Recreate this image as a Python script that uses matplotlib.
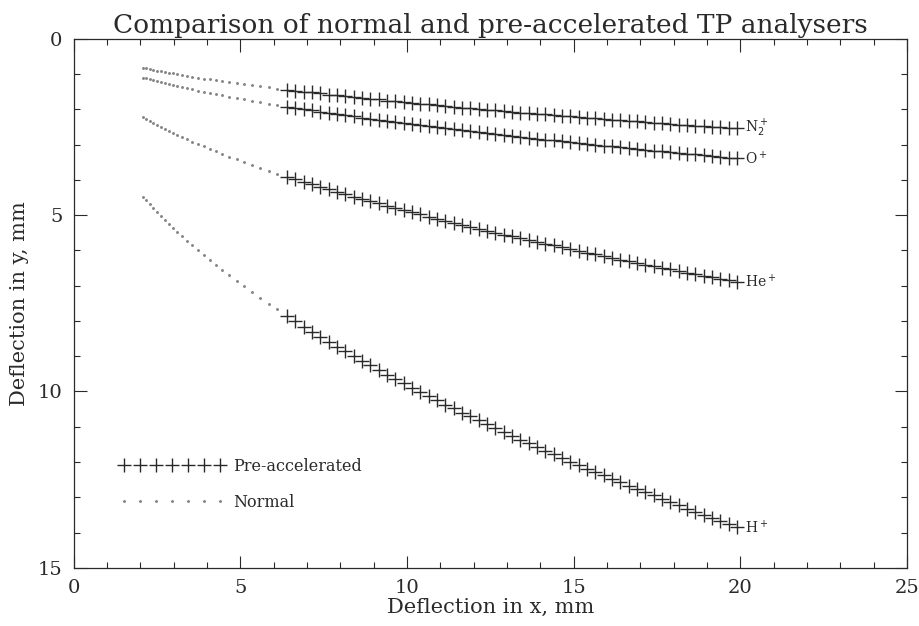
import matplotlib
matplotlib.use("Agg")
import matplotlib.pyplot as plt
from matplotlib.ticker import MultipleLocator

# Normal analyser: sampled deflections (dots)
x_normal = [2.08, 2.18, 2.28, 2.38, 2.50, 2.61, 2.73, 2.85, 2.98, 3.11, 3.25, 3.40, 3.56,
            3.73, 3.90, 4.08, 4.26, 4.46, 4.66, 4.89, 5.11, 5.35, 5.59, 5.86, 6.11]
y_normal_n2 = [0.82, 0.84, 0.86, 0.88, 0.90, 0.92, 0.94, 0.96, 0.98, 1.01, 1.03, 1.05, 1.08,
               1.10, 1.13, 1.15, 1.18, 1.20, 1.23, 1.26, 1.29, 1.32, 1.35, 1.38, 1.41]
y_normal_o = [1.10, 1.12, 1.15, 1.17, 1.20, 1.23, 1.26, 1.28, 1.31, 1.34, 1.37, 1.40, 1.43,
              1.47, 1.50, 1.54, 1.57, 1.60, 1.64, 1.68, 1.72, 1.76, 1.80, 1.84, 1.88]
y_normal_he = [2.23, 2.28, 2.33, 2.38, 2.44, 2.50, 2.55, 2.61, 2.67, 2.72, 2.79, 2.85, 2.92,
               2.98, 3.05, 3.12, 3.19, 3.26, 3.34, 3.42, 3.49, 3.57, 3.65, 3.74, 3.82]
y_normal_h = [4.48, 4.58, 4.69, 4.79, 4.91, 5.02, 5.13, 5.24, 5.36, 5.48, 5.60, 5.73, 5.86,
              6.00, 6.13, 6.27, 6.41, 6.56, 6.70, 6.87, 7.02, 7.18, 7.34, 7.52, 7.67]

# Pre-accelerated analyser (crosses)
x_pre = [6.40, 6.65, 6.90, 7.15, 7.40, 7.65, 7.90, 8.15, 8.40, 8.65, 8.90, 9.15, 9.40, 9.65,
         9.90, 10.15, 10.40, 10.65, 10.90, 11.15, 11.40, 11.65, 11.90, 12.15, 12.40, 12.65,
         12.90, 13.15, 13.40, 13.65, 13.90, 14.15, 14.40, 14.65, 14.90, 15.15, 15.40, 15.65,
         15.90, 16.15, 16.40, 16.65, 16.90, 17.15, 17.40, 17.65, 17.90, 18.15, 18.40, 18.65,
         18.90, 19.15, 19.40, 19.65, 19.90]
y_pre_n2 = [1.44, 1.47, 1.50, 1.52, 1.55, 1.58, 1.60, 1.63, 1.65, 1.68, 1.70, 1.72, 1.75, 1.77,
            1.79, 1.82, 1.84, 1.86, 1.88, 1.90, 1.92, 1.95, 1.97, 1.99, 2.01, 2.03, 2.05, 2.07,
            2.09, 2.11, 2.13, 2.14, 2.16, 2.18, 2.20, 2.22, 2.24, 2.25, 2.27, 2.29, 2.31, 2.33,
            2.34, 2.36, 2.38, 2.39, 2.41, 2.43, 2.45, 2.46, 2.48, 2.49, 2.51, 2.53, 2.54]
y_pre_o = [1.92, 1.96, 2.00, 2.03, 2.07, 2.10, 2.14, 2.17, 2.20, 2.24, 2.27, 2.30, 2.33, 2.36,
           2.39, 2.42, 2.45, 2.48, 2.51, 2.54, 2.57, 2.59, 2.62, 2.65, 2.68, 2.70, 2.73, 2.76,
           2.78, 2.81, 2.83, 2.86, 2.88, 2.91, 2.93, 2.96, 2.98, 3.01, 3.03, 3.05, 3.08, 3.10,
           3.12, 3.15, 3.17, 3.19, 3.22, 3.24, 3.26, 3.28, 3.30, 3.33, 3.35, 3.37, 3.39]
y_pre_he = [3.91, 3.98, 4.06, 4.13, 4.20, 4.27, 4.34, 4.41, 4.48, 4.54, 4.61, 4.67, 4.74, 4.80,
            4.86, 4.92, 4.98, 5.04, 5.10, 5.16, 5.22, 5.27, 5.33, 5.39, 5.44, 5.50, 5.55, 5.60,
            5.66, 5.71, 5.76, 5.81, 5.86, 5.91, 5.96, 6.01, 6.06, 6.11, 6.16, 6.21, 6.26, 6.30,
            6.35, 6.40, 6.44, 6.49, 6.54, 6.58, 6.63, 6.67, 6.72, 6.76, 6.81, 6.85, 6.89]
y_pre_h = [7.85, 8.01, 8.16, 8.30, 8.45, 8.59, 8.73, 8.86, 9.00, 9.13, 9.26, 9.39, 9.52, 9.65,
           9.77, 9.89, 10.01, 10.13, 10.25, 10.37, 10.48, 10.60, 10.71, 10.82, 10.93, 11.04,
           11.15, 11.26, 11.37, 11.47, 11.58, 11.68, 11.78, 11.88, 11.99, 12.09, 12.19, 12.28,
           12.38, 12.48, 12.57, 12.67, 12.76, 12.86, 12.95, 13.04, 13.14, 13.23, 13.32, 13.41,
           13.50, 13.59, 13.68, 13.76, 13.85]

ion_labels = [r"N$_2^+$", r"O$^+$", r"He$^+$", r"H$^+$"]

ink = "#2a2a2a"
font = "DejaVu Serif"

fig = plt.figure(figsize=(9.2, 6.26), dpi=100)
ax = fig.add_axes([0.080, 0.093, 0.906, 0.845])

normal_sets = [y_normal_n2, y_normal_o, y_normal_he, y_normal_h]
pre_sets = [y_pre_n2, y_pre_o, y_pre_he, y_pre_h]

for i, (yn, yp, lab) in enumerate(zip(normal_sets, pre_sets, ion_labels)):
    ax.plot(x_normal, yn, linestyle="none", marker="o", markersize=1.1,
            color="#858585", label="Normal" if i == 0 else None)
    ax.plot(x_pre, yp, linestyle="none", marker="+", markersize=9.5, markeredgewidth=1.0,
            color=ink, label="Pre-accelerated" if i == 0 else None)
    ax.text(x_pre[-1] + 0.25, yp[-1], lab, fontsize=10, family=font, color=ink,
            ha="left", va="center")

ax.set_xlim(0, 25)
ax.set_ylim(15, 0)
ax.xaxis.set_major_locator(MultipleLocator(5))
ax.xaxis.set_minor_locator(MultipleLocator(1))
ax.yaxis.set_major_locator(MultipleLocator(5))
ax.yaxis.set_minor_locator(MultipleLocator(1))
ax.tick_params(which="both", direction="in", top=True, right=True, color=ink,
               labelcolor=ink, labelsize=14, width=0.8)
ax.tick_params(which="major", length=9, pad=8)
ax.tick_params(which="minor", length=4.5)
for lbl in ax.get_xticklabels() + ax.get_yticklabels():
    lbl.set_family(font)
    lbl.set_fontweight("light")
for sp in ax.spines.values():
    sp.set_color(ink)
    sp.set_linewidth(0.9)

ax.set_title("Comparison of normal and pre-accelerated TP analysers",
             family=font, fontsize=19, color=ink, pad=4)
ax.set_xlabel("Deflection in x, mm", family=font, fontsize=15, color=ink, labelpad=1)
ax.set_ylabel("Deflection in y, mm", family=font, fontsize=15, color=ink, labelpad=6)

handles, labels = ax.get_legend_handles_labels()
order = [labels.index("Pre-accelerated"), labels.index("Normal")]
leg = ax.legend([handles[k] for k in order], [labels[k] for k in order],
                loc="upper left", bbox_to_anchor=(0.038, 0.235), frameon=False,
                numpoints=7, handlelength=6.6, handletextpad=0.5, labelspacing=1.2,
                prop={"family": font, "size": 11.5})
for t in leg.get_texts():
    t.set_color(ink)

fig.savefig("out.png", dpi=100)
